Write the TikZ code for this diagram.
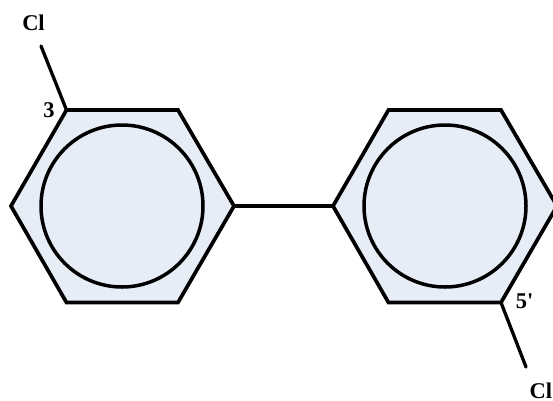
\documentclass[tikz,border=0pt]{standalone}
\usepackage{fontspec}
\setmainfont{Liberation Serif}
\definecolor{ringfill}{HTML}{E7EDF7}
\tikzset{
  ring/.style={draw=black,line width=3.7pt,fill=ringfill,line join=miter},
  inner/.style={draw=black,line width=3.5pt},
  bond/.style={draw=black,line width=3.3pt,line cap=round},
  atom/.style={font=\bfseries\fontsize{22.5}{23}\selectfont,inner sep=0pt,text=black}
}
\begin{document}
\begin{tikzpicture}[x=1pt,y=-1pt]
\useasboundingbox (0,0) rectangle (553,400);
\coordinate (a1) at (11,206);
\coordinate (a2) at (66.5,110);
\coordinate (a3) at (178,110);
\coordinate (a4) at (234,206);
\coordinate (a5) at (178,302.5);
\coordinate (a6) at (66.5,302.5);
\coordinate (b1) at (333,206);
\coordinate (b2) at (388.5,110);
\coordinate (b3) at (501,110);
\coordinate (b4) at (557,206);
\coordinate (b5) at (501,302.5);
\coordinate (b6) at (388.5,302.5);
\coordinate (clA) at (41,46);
\coordinate (clB) at (526,367);
\begin{scope}
\clip (0,0) rectangle (553,400);
\draw[ring] (a1)--(a2)--(a3)--(a4)--(a5)--(a6)--cycle;
\draw[ring] (b1)--(b2)--(b3)--(b4)--(b5)--(b6)--cycle;
\draw[inner] (122,206) circle (81);
\draw[inner] (445,206) circle (81);
\draw[bond] (a4)--(b1);
\draw[bond] (a2)--(clA);
\draw[bond] (b5)--(clB);
\end{scope}
\node[atom] (cl1) at (33.5,23) {Cl};
\node[atom] (n3) at (49,110) {3};
\node[atom] (n5) at (524.5,301) {5\textquotesingle};
\node[atom,anchor=west] (cl2) at (529.5,391) {Cl};
\end{tikzpicture}
\end{document}
